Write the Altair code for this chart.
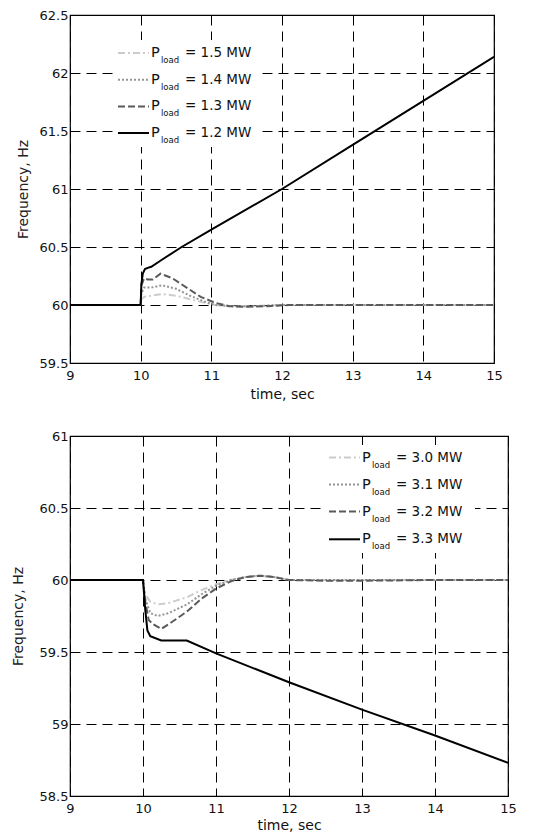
import altair as alt
import pandas as pd

FONT = "DejaVu Sans"

# ---------------- top panel data (frequency rise) ----------------
top_names = ["1.5", "1.4", "1.3", "1.2"]
t_15 = [9, 10, 10.01, 10.05, 10.15, 10.3, 10.5, 10.7, 10.9, 11.05, 11.3, 11.6, 12, 13, 14, 15]
f_15 = [60, 60, 60.05, 60.07, 60.08, 60.095, 60.08, 60.05, 60.02, 60.0, 59.99, 59.99, 60.0, 60.0, 60.0, 60.0]
t_14 = [9, 10, 10.01, 10.05, 10.15, 10.3, 10.5, 10.7, 10.9, 11.05, 11.3, 11.6, 12, 13, 14, 15]
f_14 = [60, 60, 60.1, 60.15, 60.15, 60.17, 60.14, 60.08, 60.03, 60.0, 59.99, 59.99, 60.0, 60.0, 60.0, 60.0]
t_13 = [9, 10, 10.01, 10.05, 10.1, 10.17, 10.28, 10.45, 10.65, 10.85, 11.05, 11.25, 11.5, 11.8, 12.1, 13, 14, 15]
f_13 = [60, 60, 60.17, 60.23, 60.22, 60.22, 60.27, 60.23, 60.15, 60.07, 60.02, 59.99, 59.985, 59.99, 60.0, 60.0, 60.0, 60.0]
t_12 = [9, 10, 10.01, 10.03, 10.06, 10.1, 10.15, 10.3, 10.58, 11, 12, 13, 14, 15]
f_12 = [60, 60, 60.18, 60.27, 60.31, 60.32, 60.33, 60.39, 60.5, 60.65, 61.0, 61.38, 61.76, 62.14]
top_series = [(t_15, f_15), (t_14, f_14), (t_13, f_13), (t_12, f_12)]
top_y_ticks = [59.5, 60, 60.5, 61, 61.5, 62, 62.5]

# ---------------- bottom panel data (frequency drop) ----------------
bot_names = ["3.0", "3.1", "3.2", "3.3"]
t_30 = [9, 10, 10.03, 10.1, 10.2, 10.35, 10.6, 10.8, 11, 11.2, 11.4, 11.6, 11.8, 12, 13, 14, 15]
f_30 = [60, 60, 59.9, 59.85, 59.83, 59.84, 59.88, 59.93, 59.97, 60.0, 60.02, 60.03, 60.02, 60.0, 60.0, 60.0, 60.0]
t_31 = [9, 10, 10.03, 10.1, 10.2, 10.35, 10.6, 10.8, 11, 11.2, 11.4, 11.6, 11.8, 12, 13, 14, 15]
f_31 = [60, 60, 59.87, 59.77, 59.75, 59.77, 59.83, 59.9, 59.96, 60.0, 60.02, 60.03, 60.02, 60.0, 60.0, 60.0, 60.0]
t_32 = [9, 10, 10.03, 10.08, 10.15, 10.25, 10.4, 10.6, 10.8, 11, 11.2, 11.4, 11.6, 11.8, 12, 12.5, 13, 14, 15]
f_32 = [60, 60, 59.85, 59.72, 59.69, 59.66, 59.71, 59.78, 59.87, 59.94, 59.99, 60.02, 60.03, 60.02, 60.0, 59.995, 59.995, 60.0, 60.0]
t_33 = [9, 10, 10.03, 10.06, 10.1, 10.25, 10.6, 11, 12, 13, 14, 15]
f_33 = [60, 60, 59.8, 59.65, 59.61, 59.58, 59.58, 59.49, 59.29, 59.1, 58.92, 58.73]
bot_series = [(t_30, f_30), (t_31, f_31), (t_32, f_32), (t_33, f_33)]
bot_y_ticks = [58.5, 59, 59.5, 60, 60.5, 61]

x_ticks = [9, 10, 11, 12, 13, 14, 15]

# styles
colors = ["#cccccc", "#959595", "#5a5a5a", "#000000"]
dashes = [[7, 3, 2, 3], [2, 2], [7, 3], None]


def make_panel(series, names, y_ticks, width, height, leg, title_pad, x_title_pad):
    xs = alt.Scale(domain=[9, 15], nice=False)
    ys = alt.Scale(domain=[y_ticks[0], y_ticks[-1]], nice=False, zero=False)
    xaxis = alt.Axis(values=x_ticks, title="time, sec", grid=True, gridColor="#000000",
                     gridDash=[10, 6], gridWidth=1, gridOpacity=1, domain=False, ticks=False,
                     labelPadding=6, labelFlush=False, labelFont=FONT, labelFontSize=13,
                     labelColor="#111111", titleFont=FONT, titleFontSize=14,
                     titleFontWeight="normal", titleColor="#111111", titlePadding=x_title_pad,
                     format="d")
    yaxis = alt.Axis(values=y_ticks, title="Frequency, Hz", grid=True, gridColor="#000000",
                     gridDash=[10, 6], gridWidth=1, gridOpacity=1, domain=False, ticks=False,
                     labelPadding=2, labelFlush=False, labelFont=FONT, labelFontSize=13,
                     labelColor="#111111", titleFont=FONT, titleFontSize=14,
                     titleFontWeight="normal", titleColor="#222222", titlePadding=title_pad,
                     format="~g")
    layers = []
    for (t, f), c, d in zip(series, colors, dashes):
        df = pd.DataFrame({"t": t, "f": f})
        kw = dict(color=c, strokeWidth=2, clip=True)
        if d is not None:
            kw["strokeDash"] = d
        layers.append(alt.Chart(df).mark_line(**kw).encode(
            x=alt.X("t:Q", scale=xs, axis=xaxis),
            y=alt.Y("f:Q", scale=ys, axis=yaxis)))
    one = pd.DataFrame({"a": [0]})
    bx1, bx2, by1, by2 = leg["box"]
    layers.append(alt.Chart(one).mark_rect(fill="white", stroke=None).encode(
        x=alt.value(bx1), x2=alt.value(bx2), y=alt.value(by1), y2=alt.value(by2)))
    for i, (nm, c, d) in enumerate(zip(names, colors, dashes)):
        yy = leg["rows"][i]
        kw = dict(color=c, strokeWidth=2)
        if d is not None:
            kw["strokeDash"] = d
        layers.append(alt.Chart(one).mark_rule(**kw).encode(
            x=alt.value(leg["lx1"]), x2=alt.value(leg["lx2"]), y=alt.value(yy)))
        layers.append(alt.Chart(one).mark_text(text="P", align="left", baseline="middle",
                                               font=FONT, fontSize=14.5, color="#111111").encode(
            x=alt.value(leg["px"]), y=alt.value(yy)))
        layers.append(alt.Chart(one).mark_text(text="load", align="left", baseline="middle",
                                               font=FONT, fontSize=8.5, color="#111111").encode(
            x=alt.value(leg["px"] + 10), y=alt.value(yy + 7)))
        layers.append(alt.Chart(one).mark_text(text="= " + nm + " MW", align="left",
                                               baseline="middle", font=FONT, fontSize=13.5,
                                               color="#111111").encode(
            x=alt.value(leg["px"] + 34), y=alt.value(yy)))
    return alt.layer(*layers).properties(width=width, height=height)


top_leg = {"box": [44, 190, 25, 132], "rows": [38, 64.7, 91.4, 118],
           "lx1": 48, "lx2": 79, "px": 81}
bot_leg = {"box": [254, 405, 9, 117], "rows": [21.6, 48.6, 75.6, 103.3],
           "lx1": 259, "lx2": 290, "px": 292}

top = make_panel(top_series, top_names, top_y_ticks, 424, 348, top_leg, 9, 5)
bottom = make_panel(bot_series, bot_names, bot_y_ticks, 438, 360, bot_leg, 14, 3)

chart = alt.concat(top, bottom, columns=1, spacing=27, align="none").properties(
    padding={"left": 2, "top": 0, "right": 5, "bottom": 0},
    background="white",
).configure_view(stroke="#000000", strokeWidth=1.2)

chart.save("out.html", embed_options={"renderer": "svg", "actions": False})
